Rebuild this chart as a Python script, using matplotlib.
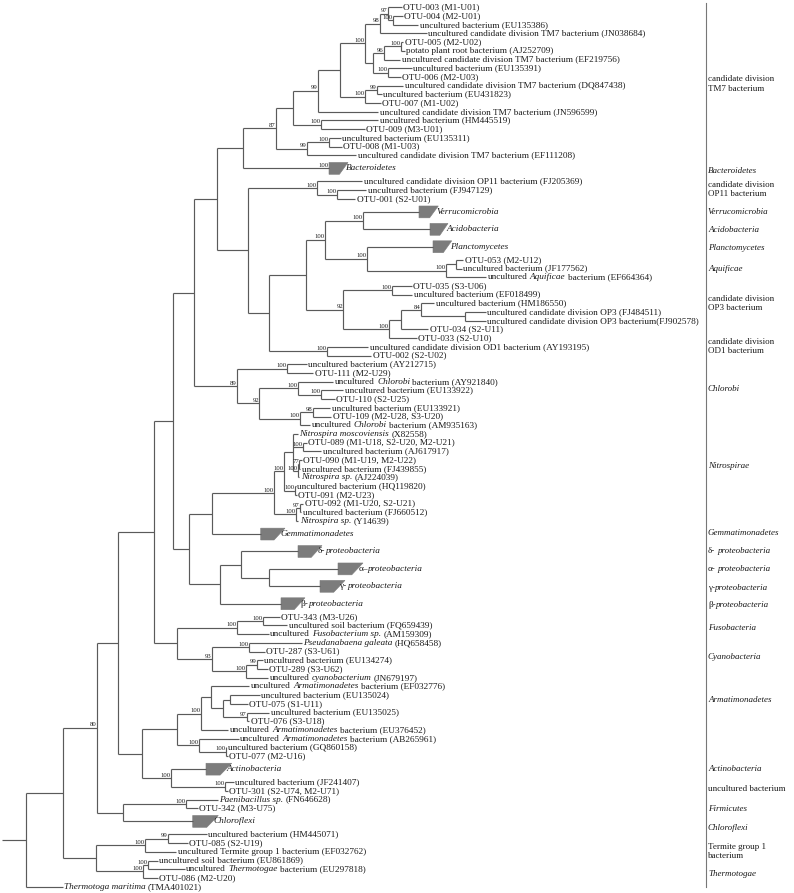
import matplotlib
matplotlib.use("Agg")
import matplotlib.pyplot as plt
from matplotlib.patches import Polygon

plt.rcParams['font.family'] = ['Liberation Serif', 'DejaVu Serif']

# ---------------------------------------------------------------------------
# DATA
# Node:            [bootstrap, branch_length, child, child, ...]
# Leaf:            (label, branch_length)
# Collapsed clade: (label, branch_length, clade_depth, bootstrap)
# *text* marks italic parts of a label
# ---------------------------------------------------------------------------
tm7_clade = [87, 33.3,
    [None, 17.3,
        [99, 25.0,
            [None, 21.7,
                [100, 25.0,
                    [98, 15.0,
                        [97, 8.0,
                            ("OTU-003 (M1-U01)", 13.7),
                            [100, 5.3,
                                ("OTU-004 (M2-U01)", 9.7),
                                ("uncultured bacterium (EU135386)", 25.0)]],
                        ("uncultured candidate division TM7 bacterium (JN038684)", 46.7)],
                    [None, 8.3,
                        [96, 10.7,
                            [100, 16.7,
                                ("OTU-005 (M2-U02)", 2.6),
                                ("potato plant root bacterium (AJ252709)", 4.3)],
                            ("uncultured candidate division TM7 bacterium (EF219756)", 16.0)],
                        [100, 14.4,
                            ("uncultured bacterium (EU135391)", 24.0),
                            ("OTU-006 (M2-U03)", 13.0)]]],
                [100, 25.0,
                    [99, 11.7,
                        ("uncultured candidate division TM7 bacterium (DQ847438)", 26.6),
                        ("uncultured bacterium (EU431823)", 5.0)],
                    ("OTU-007 (M1-U02)", 15.7)]],
            ("uncultured candidate division TM7 bacterium (JN596599)", 60.0)],
        [100, 27.4,
            ("uncultured bacterium (HM445519)", 57.6),
            ("OTU-009 (M3-U01)", 44.3)]],
    [99, 31.3,
        [100, 21.7,
            ("uncultured bacterium (EU135311)", 11.5),
            ("OTU-008 (M1-U03)", 12.7)],
        ("uncultured candidate division TM7 bacterium (EF111208)", 48.7)]]

bacteroidetes = ("*Bacteroidetes*", 86.3, 19.0, 100)
tm7_bacteroidetes = [None, 26.0, tm7_clade, bacteroidetes]

op11_clade = [100, 69.0,
    ("uncultured candidate division OP11 bacterium (FJ205369)", 45.2),
    [100, 19.4,
        ("uncultured bacterium (FJ947129)", 29.5),
        ("OTU-001 (S2-U01)", 18.5)]]

verruco_acido = [100, 37.7,
    ("*Verrucomicrobia*", 56.3, 19.3, None),
    ("*Acidobacteria*", 67.3, 18.0, None)]

planct_aquificae = [100, 41.7,
    ("*Planctomycetes*", 66.3, 18.7, None),
    [100, 79.3,
        [None, 10.0,
            ("OTU-053 (M2-U12)", 7.5),
            ("uncultured bacterium (JF177562)", 5.8)],
        ("uncultured *Aquificae* bacterium (EF664364)", 40.2)]]

op3_clade = [92, 37.3,
    [100, 48.4,
        ("OTU-035 (S3-U06)", 20.1),
        ("uncultured bacterium (EF018499)", 20.8)],
    [100, 46.0,
        [None, 11.4,
            [84, 20.0,
                ("uncultured bacterium (HM186550)", 13.8),
                [None, 44.3,
                    ("uncultured candidate division OP3 (FJ484511)", 20.8),
                    ("uncultured candidate division OP3 bacterium(FJ902578)", 20.8)]],
            ("OTU-034 (S2-U11)", 27.8)],
        ("OTU-033 (S2-U10)", 27.5)]]

od1_clade = [100, 58.0,
    ("uncultured candidate division OD1 bacterium (AY193195)", 41.2),
    ("OTU-002 (S2-U02)", 43.9)]

chlorobi_clade = [89, 42.7,
    [100, 50.6,
        ("uncultured bacterium (AY212715)", 19.4),
        ("OTU-111 (M2-U29)", 26.0)],
    [92, 22.6,
        [100, 39.0,
            ("uncultured *Chlorobi* bacterium (AY921840)", 35.0),
            [100, 22.4,
                ("uncultured bacterium (EU133922)", 22.6),
                ("OTU-110 (S2-U25)", 14.3)]],
        [100, 40.7,
            [98, 12.7,
                ("uncultured bacterium (EU133921)", 17.3),
                ("OTU-109 (M2-U28, S3-U20)", 18.5)],
            ("uncultured *Chlorobi* bacterium (AM935163)", 10.0)]]]

nitrospirae_clade = [100, 62.0,
    [100, 10.0,
        [None, 8.4,
            ("*Nitrospira moscoviensis* (X82558)", 5.1),
            [100, 10.0,
                ("OTU-089 (M1-U18, S2-U20, M2-U21)", 4.1),
                ("uncultured bacterium (AJ617917)", 18.5)],
            [100, 5.6,
                [77, 1.0,
                    ("OTU-090 (M1-U19, M2-U22)", 2.5),
                    ("uncultured bacterium (FJ439855)", 1.2)],
                ("*Nitrospira sp.* (AJ224039)", 1.0)]],
        [100, 10.7,
            ("uncultured bacterium (HQ119820)", 1.0),
            ("OTU-091 (M2-U23)", 2.0)]],
    [100, 21.7,
        [97, 4.0,
            ("OTU-092 (M1-U20, S2-U21)", 3.4),
            ("uncultured bacterium (FJ660512)", 1.5)],
        ("*Nitrospira sp.* (Y14639)", 2.4)]]

gemmatimonadetes = ("*Gemmatimonadetes*", 48.4, 24.3, None)
nitro_gemm = [None, 23.0, nitrospirae_clade, gemmatimonadetes]

proteobacteria = [None, 30.4,
    [None, 21.6,
        ("δ-*proteobacteria*", 56.7, 24.0, None),
        [None, 27.7,
            ("α–*proteobacteria*", 69.0, 25.0, None),
            ("γ-*proteobacteria*", 51.0, 25.0, None)]],
    ("β-*proteobacteria*", 61.3, 24.0, None)]

fuso_cyano = [None, 22.7,
    [100, 60.0,
        [100, 26.6,
            ("OTU-343 (M3-U26)", 16.2),
            ("uncultured soil bacterium (FQ659439)", 23.9)],
        ("uncultured *Fusobacterium sp.* (AM159309)", 31.8)],
    [93, 35.0,
        [100, 37.6,
            ("*Pseudanabaena galeata* (HQ658458)", 52.4),
            ("OTU-287 (S3-U61)", 15.3)],
        [100, 34.0,
            [99, 11.0,
                ("uncultured bacterium (EU134274)", 6.3),
                ("OTU-289 (S3-U62)", 10.8)],
            ("uncultured *cyanobacterium* (JN679197)", 22.3)]]]

armat_actino = [None, 23.7,
    [None, 35.6,
        [100, 23.7,
            [None, 10.0,
                ("uncultured *Armatimonadetes* bacterium (EF032776)", 38.5),
                [None, 11.7,
                    [None, 7.3,
                        ("uncultured bacterium (EU135024)", 29.5),
                        ("OTU-075 (S1-U11)", 17.8)],
                    [97, 24.0,
                        ("uncultured bacterium (EU135025)", 22.8),
                        ("OTU-076 (S3-U18)", 2.8)]]],
            ("uncultured *Armatimonadetes* bacterium (EU376452)", 27.5)],
        [100, 22.0,
            ("uncultured *Armatimonadetes* bacterium (AB265961)", 39.2),
            [100, 26.7,
                ("uncultured bacterium (GQ860158)", 0.5),
                ("OTU-077 (M2-U16)", 1.8)]]],
    [100, 29.0,
        ("*Actinobacteria*", 35.3, 25.7, None),
        [100, 54.3,
            ("uncultured bacterium (JF241407)", 8.5),
            ("OTU-301 (S2-U74, M2-U71)", 2.8)]]]

firm_chloro = [None, 26.6,
    [100, 62.4,
        ("*Paenibacillus sp.* (FN646628)", 32.1),
        ("OTU-342 (M3-U75)", 12.1)],
    ("*Chloroflexi*", 69.4, 25.6, None)]

termite_thermotogae = [None, 33.0,
    [100, 49.0,
        [99, 22.7,
            ("uncultured bacterium (HM445071)", 39.1),
            ("OTU-085 (S2-U19)", 20.1)],
        ("uncultured Termite group 1 bacterium (EF032762)", 31.2)],
    [100, 46.7,
        [100, 5.6,
            ("uncultured soil bacterium (EU861869)", 9.5),
            ("uncultured *Thermotogae* bacterium (EU297818)", 36.2)],
        ("OTU-086 (M2-U20)", 15.1)]]

tree = [None, 24.0,
    [None, 37.0,
        [80, 33.7,
            [None, 21.3,
                [None, 36.0,
                    [None, 18.7,
                        [None, 21.3,
                            [None, 22.7,
                                tm7_bacteroidetes,
                                [None, 31.6,
                                    op11_clade,
                                    [None, 21.0,
                                        [None, 36.7,
                                            [100, 19.0, verruco_acido, planct_aquificae],
                                            op3_clade],
                                        od1_clade]]],
                            chlorobi_clade],
                        [None, 16.6, nitro_gemm, proteobacteria]],
                    fuso_cyano],
                armat_actino],
            firm_chloro],
        termite_thermotogae],
    ("*Thermotoga maritima* (TMA401021)", 36.5)]

# Group names in the right-hand column and the row they are centred on
group_names = ["candidate division\nTM7 bacterium", "*Bacteroidetes*",
               "candidate division\nOP11 bacterium", "*Verrucomicrobia*",
               "*Acidobacteria*", "*Planctomycetes*", "*Aquificae*",
               "candidate division\nOP3 bacterium", "candidate division\nOD1 bacterium",
               "*Chlorobi*", "*Nitrospirae*", "*Gemmatimonadetes*",
               "δ- *proteobacteria*", "α- *proteobacteria*", "γ-*proteobacteria*",
               "β-*proteobacteria*", "*Fusobacteria*", "*Cyanobacteria*",
               "*Armatimonadetes*", "*Actinobacteria*", "uncultured bacterium",
               "*Firmicutes*", "*Chloroflexi*", "Termite group 1\nbacterium",
               "*Thermotogae*"]
group_rows = [8.8, 18.8, 20.9, 23.5, 25.6, 27.7, 30.1, 34.05, 39.0, 43.8,
              52.7, 60.4, 62.5, 64.5, 66.7, 68.6, 71.3, 74.6, 79.6, 87.5,
              89.8, 92.1, 94.3, 97.0, 99.5]

# ---------------------------------------------------------------------------
# STYLE / LAYOUT
# ---------------------------------------------------------------------------
W_PX, H_PX, DPI = 794, 893, 100
ROOT_X = 2.0
ROW_PX = 8.707
TOP_PX = 7.3
LINE_C = '#5a5a5a'
LINE_W = 0.85
TEXT_C = '#1a1a1a'
FILL_C = '#7c7c7c'
LEAF_FS = 6.7
BS_FS = 4.8
GROUP_FS = 6.5
TRI_H = 1.36          # rows
BAR_X = 705.7
GROUP_X = 708.0

fig = plt.figure(figsize=(W_PX / DPI, H_PX / DPI), dpi=DPI)
ax = fig.add_axes([0, 0, 1, 1])
ax.set_axis_off()


def put_label(x, y, label, fs):
    """Write a label whose *starred* parts are italic, piece by piece."""
    pieces = label.split('*')
    prev = None
    pending_gap = False
    for i, raw in enumerate(pieces):
        if raw == '':
            continue
        style = 'italic' if i % 2 == 1 else 'normal'
        lead = raw[:1].isspace()
        trail = raw[-1:].isspace()
        txt = raw.strip()
        if txt == '':
            pending_gap = True
            continue
        if prev is None:
            prev = ax.text(x, y, txt, ha='left', va='center', fontsize=fs,
                           fontstyle=style, color=TEXT_C)
        else:
            gap = 0.25 * fs if (lead or pending_gap) else 0.0
            prev = ax.annotate(txt, xy=(1, 0), xycoords=prev,
                               xytext=(gap, 0), textcoords='offset points',
                               ha='left', va='bottom', fontsize=fs,
                               fontstyle=style, color=TEXT_C)
        pending_gap = trail
    return prev


cursor = [0]


def hline(x0, x1, y):
    ax.plot([x0, x1], [y, y], color=LINE_C, lw=LINE_W, solid_capstyle='butt')


def draw(node, x_parent):
    """Lay out and draw a subtree; returns (x, y) of its node."""
    if isinstance(node, list):
        bs, length = node[0], node[1]
        x = x_parent + length
        pts = [draw(ch, x) for ch in node[2:]]
        ys = [p[1] for p in pts]
        y = (ys[0] + ys[-1]) / 2.0
        ax.plot([x, x], [ys[0], ys[-1]], color=LINE_C, lw=LINE_W,
                solid_capstyle='butt')
        hline(x_parent, x, y)
        if bs is not None:
            ax.text(x - 0.4, y - 0.04, str(bs), ha='right', va='bottom',
                    fontsize=BS_FS, color=TEXT_C)
        return x, y
    if len(node) == 2:
        label, length = node
        y = cursor[0]
        cursor[0] += 1
        x = x_parent + length
        hline(x_parent, x, y)
        put_label(x + 1.5, y, label, LEAF_FS)
        return x, y
    label, length, depth, bs = node
    y = cursor[0] + 0.5
    cursor[0] += 2
    x = x_parent + length
    hline(x_parent, x, y)
    poly = Polygon([(x, y - TRI_H / 2), (x + depth, y - TRI_H / 2),
                    (x + 0.55 * depth, y + TRI_H / 2), (x, y + TRI_H / 2)],
                   closed=True, facecolor=FILL_C, edgecolor=FILL_C, lw=0.4)
    ax.add_patch(poly)
    put_label(x + 0.55 * depth + 6.5, y, label, LEAF_FS)
    if bs is not None:
        ax.text(x - 0.4, y - 0.04, str(bs), ha='right', va='bottom',
                fontsize=BS_FS, color=TEXT_C)
    return x, y


draw(tree, ROOT_X)
last_leaf = cursor[0] - 1

# right-hand bar and group names
ax.plot([BAR_X, BAR_X], [-0.5, last_leaf], color='#777777', lw=0.8)
for name, row in zip(group_names, group_rows):
    if '\n' in name:
        ax.text(GROUP_X, row, name, ha='left', va='center',
                fontsize=GROUP_FS, color=TEXT_C, linespacing=1.2)
    else:
        put_label(GROUP_X, row, name, GROUP_FS)

ax.set_xlim(0, W_PX)
ax.set_ylim((H_PX - TOP_PX) / ROW_PX, -TOP_PX / ROW_PX)

fig.savefig('out.png', dpi=DPI, facecolor='white')
